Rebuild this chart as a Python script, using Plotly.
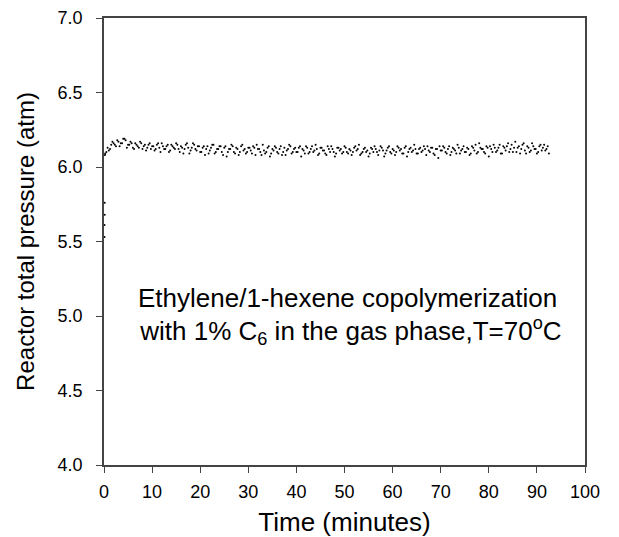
import numpy as np
import plotly.graph_objects as go

# Reactor pressure log: two interleaved half-minute sampling channels
sample_step = 0.5
pressure_a = [  # readings at 0.5, 1.0, ... min
    6.10, 6.11, 6.15, 6.16, 6.14, 6.17, 6.16, 6.19, 6.18, 6.15,
    6.17, 6.13, 6.16, 6.14, 6.17, 6.12, 6.15, 6.13, 6.16, 6.14,
    6.11, 6.15, 6.13, 6.16, 6.12, 6.14, 6.10, 6.15, 6.13, 6.16,
    6.12, 6.14, 6.09, 6.15, 6.13, 6.11, 6.16, 6.12, 6.14, 6.10,
    6.13, 6.08, 6.14, 6.11, 6.15, 6.09, 6.12, 6.14, 6.10, 6.13,
    6.07, 6.12, 6.15, 6.10, 6.13, 6.08, 6.14, 6.11, 6.09, 6.13,
    6.11, 6.14, 6.08, 6.12, 6.10, 6.15, 6.09, 6.13, 6.07, 6.12,
    6.14, 6.10, 6.12, 6.08, 6.13, 6.11, 6.15, 6.09, 6.12, 6.10,
    6.13, 6.07, 6.11, 6.14, 6.09, 6.12, 6.10, 6.15, 6.08, 6.13,
    6.11, 6.09, 6.14, 6.10, 6.12, 6.07, 6.13, 6.11, 6.09, 6.14,
    6.10, 6.12, 6.08, 6.13, 6.11, 6.15, 6.09, 6.12, 6.10, 6.07,
    6.13, 6.10, 6.12, 6.08, 6.14, 6.11, 6.09, 6.13, 6.10, 6.12,
    6.08, 6.14, 6.11, 6.09, 6.13, 6.07, 6.12, 6.10, 6.15, 6.09,
    6.12, 6.10, 6.14, 6.08, 6.11, 6.13, 6.09, 6.12, 6.06, 6.11,
    6.14, 6.10, 6.12, 6.08, 6.13, 6.11, 6.15, 6.09, 6.12, 6.10,
    6.13, 6.08, 6.14, 6.11, 6.09, 6.16, 6.12, 6.10, 6.14, 6.07,
    6.12, 6.15, 6.10, 6.13, 6.09, 6.14, 6.11, 6.16, 6.12, 6.10,
    6.17, 6.13, 6.09, 6.15, 6.11, 6.14, 6.10, 6.16, 6.12, 6.09,
    6.14, 6.11, 6.15, 6.12, 6.09,
]
pressure_b = [  # readings at 0.25, 0.75, ... min
    6.09, 6.13, 6.12, 6.17, 6.15, 6.18, 6.14, 6.16, 6.19, 6.13,
    6.15, 6.16, 6.12, 6.15, 6.13, 6.16, 6.14, 6.11, 6.15, 6.12,
    6.14, 6.12, 6.16, 6.10, 6.14, 6.12, 6.15, 6.11, 6.14, 6.12,
    6.15, 6.10, 6.13, 6.12, 6.16, 6.09, 6.13, 6.15, 6.11, 6.14,
    6.10, 6.14, 6.12, 6.09, 6.13, 6.15, 6.10, 6.12, 6.14, 6.08,
    6.14, 6.10, 6.12, 6.14, 6.09, 6.12, 6.10, 6.15, 6.12, 6.10,
    6.13, 6.09, 6.13, 6.15, 6.12, 6.08, 6.11, 6.10, 6.14, 6.09,
    6.11, 6.13, 6.09, 6.14, 6.10, 6.08, 6.12, 6.14, 6.10, 6.13,
    6.10, 6.14, 6.12, 6.09, 6.13, 6.10, 6.14, 6.11, 6.12, 6.09,
    6.13, 6.11, 6.08, 6.12, 6.14, 6.10, 6.09, 6.13, 6.12, 6.10,
    6.13, 6.09, 6.11, 6.10, 6.14, 6.12, 6.08, 6.10, 6.13, 6.11,
    6.09, 6.12, 6.14, 6.10, 6.11, 6.13, 6.07, 6.11, 6.14, 6.09,
    6.11, 6.10, 6.13, 6.12, 6.09, 6.14, 6.10, 6.13, 6.11, 6.12,
    6.09, 6.13, 6.11, 6.12, 6.14, 6.10, 6.13, 6.08, 6.12, 6.14,
    6.11, 6.13, 6.09, 6.14, 6.10, 6.12, 6.09, 6.13, 6.11, 6.14,
    6.10, 6.12, 6.09, 6.13, 6.15, 6.10, 6.13, 6.12, 6.09, 6.13,
    6.14, 6.10, 6.13, 6.11, 6.15, 6.09, 6.13, 6.14, 6.10, 6.15,
    6.13, 6.10, 6.14, 6.12, 6.16, 6.09, 6.13, 6.11, 6.14, 6.12,
    6.10, 6.15, 6.13, 6.11, 6.14,
]
time_a = sample_step * (np.arange(len(pressure_a)) + 1)
time_b = time_a - sample_step / 2

# Initial pressurisation readings at start-up
startup_time = [0.1, 0.1, 0.15, 0.15, 0.2]
startup_pressure = [5.53, 5.61, 5.68, 5.76, 6.08]

x_ticks = [0, 10, 20, 30, 40, 50, 60, 70, 80, 90, 100]
y_ticks = [4.0, 4.5, 5.0, 5.5, 6.0, 6.5, 7.0]

FONT = "Liberation Sans, Arial, Helvetica, sans-serif"
AXIS_COLOR = "#444444"

fig = go.Figure()
fig.add_trace(go.Scatter(
    x=list(startup_time) + list(time_b) + list(time_a),
    y=list(startup_pressure) + list(pressure_b) + list(pressure_a),
    mode="markers",
    marker=dict(color="black", size=2, line=dict(width=0)),
    showlegend=False,
))

# Two-line caption inside the plot
caption_font = dict(family=FONT, size=26, color="black")
fig.add_annotation(
    x=50.6, y=5.12, xref="x", yref="y",
    text="Ethylene/1-hexene copolymerization",
    showarrow=False, font=caption_font,
)
fig.add_annotation(
    x=50.6, y=4.90, xref="x", yref="y",
    text=" with 1% C<sub>6</sub> in the gas phase,T=70<sup>o</sup>C",
    showarrow=False, font=caption_font,
)

axis_common = dict(
    showgrid=False, zeroline=False, automargin=False,
    showline=True, linecolor=AXIS_COLOR, linewidth=1.5, mirror=True,
    ticks="outside", ticklen=6, tickwidth=1, tickcolor=AXIS_COLOR,
    tickfont=dict(family=FONT, size=18, color="black"),
)

fig.update_xaxes(
    range=[0, 100], tickvals=x_ticks, ticktext=[str(v) for v in x_ticks],
    ticklabelstandoff=4,
    title=dict(text="Time (minutes)", font=dict(family=FONT, size=26, color="black"), standoff=12),
    **axis_common,
)
fig.update_yaxes(
    range=[4.0, 7.0], tickvals=y_ticks, ticktext=[f"{v:.1f}" for v in y_ticks],
    ticklabelstandoff=10,
    title=dict(text="Reactor total pressure (atm)", font=dict(family=FONT, size=24, color="black"), standoff=16),
    **axis_common,
)

fig.update_layout(
    width=619, height=537,
    margin=dict(l=104, r=34, t=18, b=72),
    plot_bgcolor="white", paper_bgcolor="white",
)

fig.write_html("out.html")
